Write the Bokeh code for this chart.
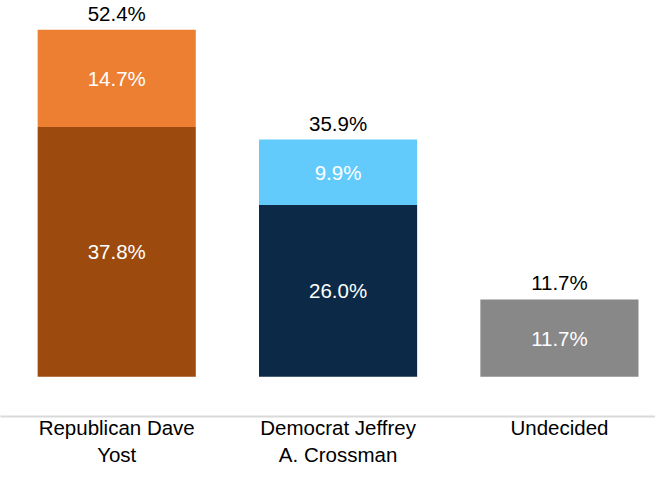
from bokeh.plotting import figure
from bokeh.models import ColumnDataSource, Range1d, FixedTicker
from bokeh.core.properties import value
from bokeh.embed import file_html
from bokeh.resources import INLINE

categories = ["Republican Dave\nYost", "Democrat Jeffrey\nA. Crossman", "Undecided"]
base_values = [37.8, 26.0, 11.7]
lean_values = [14.7, 9.9, 0.0]
totals = [52.4, 35.9, 11.7]
base_colors = ["#9C4A0E", "#0C2A47", "#888888"]
lean_colors = ["#ED7F33", "#63CBFB", "#888888"]

xs = list(range(len(categories)))

FONT = value("Liberation Sans")
FS = "20.5px"

p = figure(frame_width=655, frame_height=416,
           x_range=Range1d(-0.525, 2.434), y_range=Range1d(-6.01, 56.94),
           output_backend="svg", toolbar_location=None, y_axis_location=None,
           min_border=0, outline_line_color=None)
p.xgrid.visible = False
p.ygrid.visible = False

base_src = ColumnDataSource(dict(x=xs, top=base_values, color=base_colors,
                                 ymid=[b / 2 for b in base_values],
                                 label=[f"{b:.1f}%" for b in base_values]))
p.vbar(x="x", bottom=0, top="top", width=0.7144, color="color", line_color=None, source=base_src)

lean_x = [x for x, l in zip(xs, lean_values) if l > 0]
lean_b = [b for b, l in zip(base_values, lean_values) if l > 0]
lean_v = [l for l in lean_values if l > 0]
lean_c = [c for c, l in zip(lean_colors, lean_values) if l > 0]
lean_src = ColumnDataSource(dict(x=lean_x, bottom=lean_b, top=[b + l for b, l in zip(lean_b, lean_v)],
                                 color=lean_c, ymid=[b + l / 2 for b, l in zip(lean_b, lean_v)],
                                 label=[f"{l:.1f}%" for l in lean_v]))
p.vbar(x="x", bottom="bottom", top="top", width=0.7144, color="color", line_color=None, source=lean_src)

for src in (base_src, lean_src):
    p.text(x="x", y="ymid", text="label", source=src, text_color="white",
           text_font=FONT, text_font_size=FS, text_align="center", text_baseline="middle")

tot_top = [b + l for b, l in zip(base_values, lean_values)]
tot_src = ColumnDataSource(dict(x=xs, y=tot_top, label=[f"{t:.1f}%" for t in totals]))
p.text(x="x", y="y", text="label", source=tot_src, text_color="black", y_offset=-5,
       text_font=FONT, text_font_size=FS, text_align="center", text_baseline="bottom")

ax = p.xaxis[0]
ax.ticker = FixedTicker(ticks=xs)
ax.major_label_overrides = {x: c for x, c in zip(xs, categories)}
ax.axis_line_color = "#D9D9D9"
ax.axis_line_width = 2
ax.major_tick_line_color = None
ax.minor_tick_line_color = None
ax.major_tick_out = 0
ax.major_tick_in = 0
ax.major_label_text_font = "Liberation Sans"
ax.major_label_text_font_size = FS
ax.major_label_text_color = "black"
ax.major_label_standoff = -1

open("out.html", "w").write(file_html(p, INLINE))
